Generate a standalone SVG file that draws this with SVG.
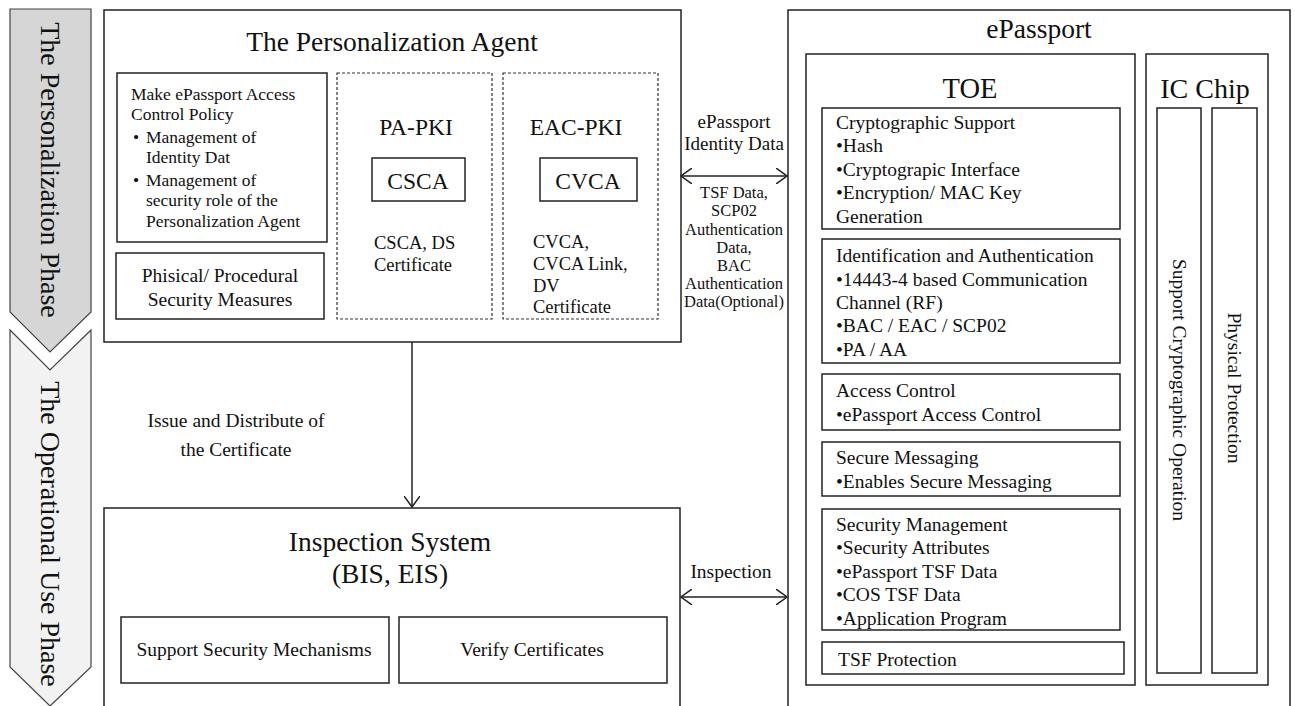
<svg xmlns="http://www.w3.org/2000/svg" width="1295" height="706" viewBox="0 0 1295 706">
<style>
text{font-family:"Liberation Serif","Times New Roman",serif;fill:#111}
.box{fill:#fff;stroke:#222;stroke-width:1.5}
.dash{fill:#fff;stroke:#333;stroke-width:1.2;stroke-dasharray:3 2}
.c{text-anchor:middle}
.t24{font-size:27.5px}
.t20{font-size:23.5px}
.t16{font-size:19.5px}
.t18{font-size:18.5px}
.t15{font-size:17.5px}
.t13{font-size:16.5px}
.ph{font-size:28px}
.line{stroke:#222;stroke-width:1.5;fill:none}
</style>
<defs>
<marker id="ah" viewBox="0 0 12 16" refX="11" refY="8" markerWidth="12" markerHeight="16" markerUnits="userSpaceOnUse" orient="auto-start-reverse">
<path d="M0,0 L11,8 L0,16" fill="none" stroke="#222" stroke-width="1.5"/>
</marker>
</defs>
<rect width="1295" height="706" fill="#fff"/>

<g id="phase-personalization">
<polygon points="10,9 91,9 91,312 50,352 10,312" fill="#d6d6d6" stroke="#444" stroke-width="1.2"/>
<text class="ph" transform="translate(50,170) rotate(90)" text-anchor="middle" dominant-baseline="central">The Personalization Phase</text>
</g>
<g id="phase-operational">
<polygon points="10,330 50,370 91,330 91,667 50,706 10,667" fill="#f2f2f2" stroke="#444" stroke-width="1.2"/>
<text class="ph" transform="translate(50,534) rotate(90)" text-anchor="middle" dominant-baseline="central">The Operational Use Phase</text>
</g>

<g id="personalization-agent">
<rect class="box" x="104" y="10" width="577" height="332"/>
<text class="t24 c" x="392" y="51">The Personalization Agent</text>
</g>
<g id="access-policy">
<rect class="box" x="117" y="73" width="210" height="169"/>
<text class="t15" x="131" y="100">Make ePassport Access</text>
<text class="t15" x="131" y="120">Control Policy</text>
<text class="t15" x="133" y="143">•</text><text class="t15" x="146" y="143">Management of</text>
<text class="t15" x="146" y="163">Identity Dat</text>
<text class="t15" x="133" y="186">•</text><text class="t15" x="146" y="186">Management of</text>
<text class="t15" x="146" y="206">security role of the</text>
<text class="t15" x="146" y="227">Personalization Agent</text>
</g>
<g id="physical-measures">
<rect class="box" x="116" y="253" width="208" height="66"/>
<text class="t16 c" x="220" y="282">Phisical/ Procedural</text>
<text class="t16 c" x="220" y="306">Security Measures</text>
</g>
<g id="pa-pki">
<rect class="dash" x="337" y="73" width="155" height="246"/>
<text class="t20 c" x="416" y="135">PA-PKI</text>
<rect class="box" x="372" y="158" width="93" height="43"/>
<text class="t20 c" x="418" y="189">CSCA</text>
<text class="t18" x="374" y="249">CSCA, DS</text>
<text class="t18" x="374" y="271">Certificate</text>
</g>
<g id="eac-pki">
<rect class="dash" x="503" y="73" width="155" height="246"/>
<text class="t20 c" x="576" y="135">EAC-PKI</text>
<rect class="box" x="540" y="158" width="97" height="43"/>
<text class="t20 c" x="588" y="189">CVCA</text>
<text class="t18" x="533" y="248">CVCA,</text>
<text class="t18" x="533" y="270">CVCA Link,</text>
<text class="t18" x="533" y="292">DV</text>
<text class="t18" x="533" y="313">Certificate</text>
</g>

<g id="inspection-system">
<rect class="box" x="104" y="508" width="576" height="210"/>
<text class="t24 c" x="390" y="551">Inspection System</text>
<text class="t24 c" x="390" y="583">(BIS, EIS)</text>
</g>
<g id="support-security">
<rect class="box" x="121" y="617" width="268" height="66"/>
<text class="t16 c" x="254" y="656">Support Security Mechanisms</text>
</g>
<g id="verify-certificates">
<rect class="box" x="399" y="617" width="268" height="66"/>
<text class="t16 c" x="532" y="656">Verify Certificates</text>
</g>

<g id="epassport">
<rect class="box" x="788" y="10" width="502" height="710"/>
<text class="t24 c" x="1039" y="38">ePassport</text>
</g>
<g id="toe">
<rect class="box" x="806" y="54" width="329" height="631"/>
<text class="c" x="970" y="98" font-size="28.5px">TOE</text>
</g>
<g id="crypto-support">
<rect class="box" x="822" y="108" width="298" height="121"/>
<text class="t16" x="836" y="129">Cryptographic Support</text>
<text class="t16" x="836" y="152">•Hash</text>
<text class="t16" x="836" y="176">•Cryptograpic Interface</text>
<text class="t16" x="836" y="199">•Encryption/ MAC Key</text>
<text class="t16" x="836" y="223">Generation</text>
</g>
<g id="identification-auth">
<rect class="box" x="822" y="239" width="298" height="124"/>
<text class="t16" x="836" y="262">Identification and Authentication</text>
<text class="t16" x="836" y="286">•14443-4 based Communication</text>
<text class="t16" x="836" y="309">Channel (RF)</text>
<text class="t16" x="836" y="332">•BAC / EAC / SCP02</text>
<text class="t16" x="836" y="356">•PA / AA</text>
</g>
<g id="access-control">
<rect class="box" x="822" y="374" width="298" height="56"/>
<text class="t16" x="836" y="397">Access Control</text>
<text class="t16" x="836" y="421">•ePassport Access Control</text>
</g>
<g id="secure-messaging">
<rect class="box" x="822" y="442" width="298" height="54"/>
<text class="t16" x="836" y="464">Secure Messaging</text>
<text class="t16" x="836" y="488">•Enables Secure Messaging</text>
</g>
<g id="security-management">
<rect class="box" x="822" y="509" width="298" height="121"/>
<text class="t16" x="836" y="531">Security Management</text>
<text class="t16" x="836" y="554">•Security Attributes</text>
<text class="t16" x="836" y="578">•ePassport TSF Data</text>
<text class="t16" x="836" y="601">•COS TSF Data</text>
<text class="t16" x="836" y="625">•Application Program</text>
</g>
<g id="tsf-protection">
<rect class="box" x="822" y="642" width="302" height="32"/>
<text class="t16" x="838" y="666">TSF Protection</text>
</g>
<g id="ic-chip">
<rect class="box" x="1146" y="54" width="122" height="631"/>
<text class="c" x="1205" y="98" font-size="28px">IC Chip</text>
</g>
<g id="support-crypto-op">
<rect class="box" x="1157" y="108" width="44" height="565"/>
<text class="t16" transform="translate(1179,390) rotate(90)" text-anchor="middle" dominant-baseline="central">Support Cryptographic Operation</text>
</g>
<g id="physical-protection">
<rect class="box" x="1212" y="108" width="45" height="565"/>
<text class="t16" transform="translate(1234,388) rotate(90)" text-anchor="middle" dominant-baseline="central">Physical Protection</text>
</g>

<g id="connectors">
<line class="line" x1="412" y1="342" x2="412" y2="507" marker-end="url(#ah)"/>
<line class="line" x1="681" y1="176" x2="787" y2="176" marker-start="url(#ah)" marker-end="url(#ah)"/>
<line class="line" x1="681" y1="597" x2="787" y2="597" marker-start="url(#ah)" marker-end="url(#ah)"/>
<text class="c" x="236" y="427" font-size="19.5px">Issue and Distribute of</text>
<text class="c" x="236" y="456" font-size="19.5px">the Certificate</text>
<text class="c" x="734" y="128" font-size="19px">ePassport</text>
<text class="c" x="734" y="150" font-size="19px">Identity Data</text>
<text class="t13 c" x="734" y="198">TSF Data,</text>
<text class="t13 c" x="734" y="216">SCP02</text>
<text class="t13 c" x="734" y="235">Authentication</text>
<text class="t13 c" x="734" y="253">Data,</text>
<text class="t13 c" x="734" y="271">BAC</text>
<text class="t13 c" x="734" y="289">Authentication</text>
<text class="t13 c" x="734" y="307">Data(Optional)</text>
<text class="c" x="731" y="578" font-size="19.5px">Inspection</text>
</g>
</svg>
